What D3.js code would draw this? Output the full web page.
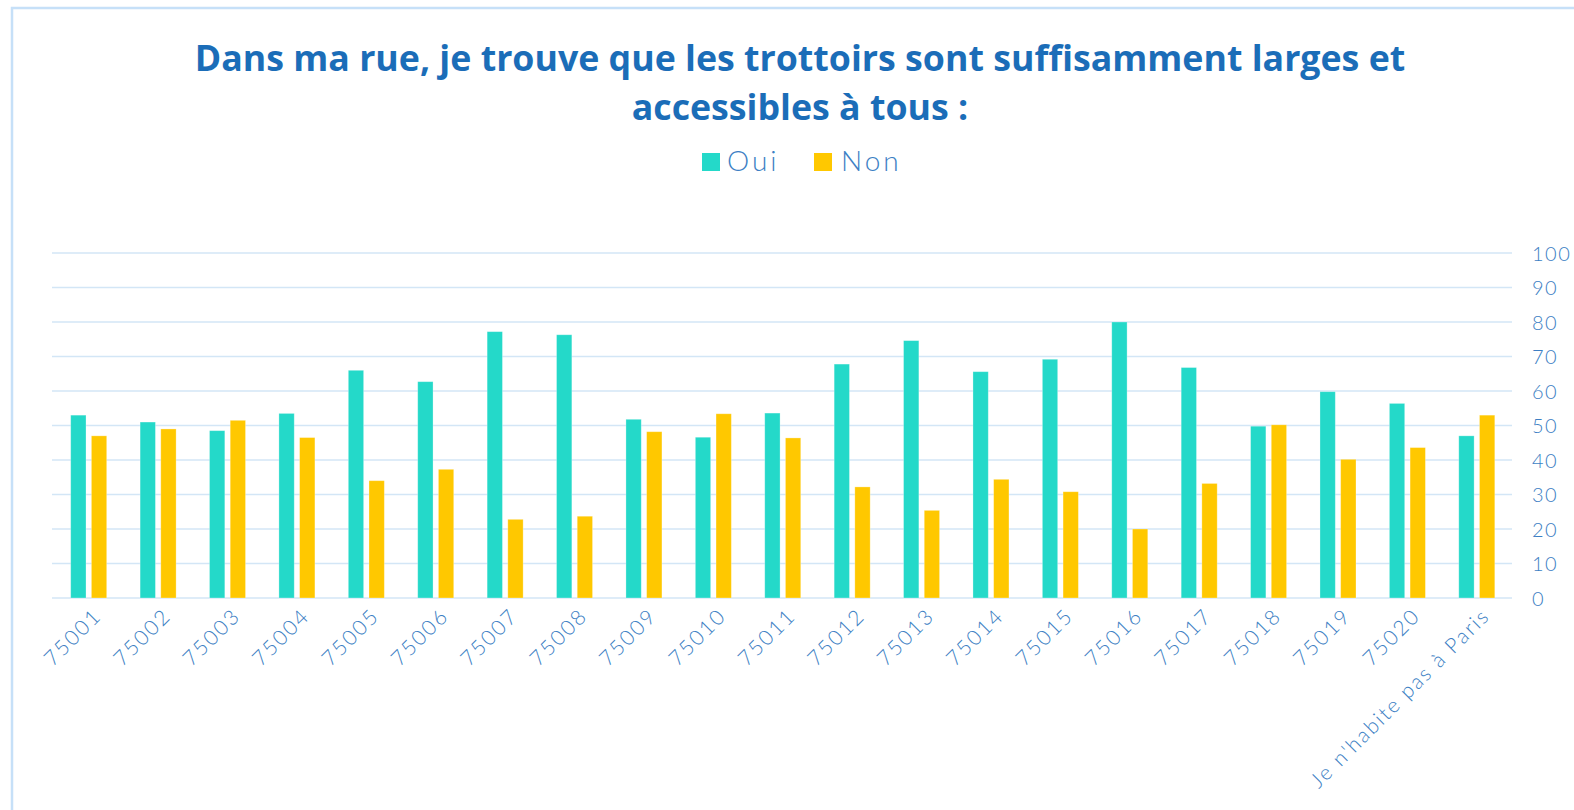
<!DOCTYPE html>
<html>
<head>
<meta charset="utf-8">
<script src="https://cdn.jsdelivr.net/npm/d3@7"></script>
<style>
  html, body { margin: 0; padding: 0; background: #fff; }
  svg { display: block; }
</style>
</head>
<body>
<svg id="chart" width="1574" height="810"></svg>
<script>
const categories = ["75001","75002","75003","75004","75005","75006","75007","75008","75009","75010","75011","75012","75013","75014","75015","75016","75017","75018","75019","75020","Je n'habite pas à Paris"];
const oui = [53, 51, 48.5, 53.5, 66, 62.7, 77.2, 76.3, 51.8, 46.6, 53.6, 67.8, 74.6, 65.6, 69.2, 80, 66.8, 49.8, 59.8, 56.4, 47];
const non = [47, 49, 51.5, 46.5, 34, 37.3, 22.8, 23.7, 48.2, 53.4, 46.4, 32.2, 25.4, 34.4, 30.8, 20, 33.2, 50.2, 40.2, 43.6, 53];
const seriesNames = ["Oui", "Non"];
const yTicks = [0,10,20,30,40,50,60,70,80,90,100];
const titleLines = ["Dans ma rue, je trouve que les trottoirs sont suffisamment larges et", "accessibles à tous :"];

const colors = { Oui: "#24d9c9", Non: "#ffc800" };
const textBlue = "#3d7fc4";
const titleBlue = "#1b6db8";
const gridColor = "#d3e6f6";
const labelFont = "Lato, 'Open Sans', sans-serif";

const svg = d3.select("#chart");

// outer border
svg.append("path")
  .attr("d", "M12,812 L12,8 L1576,8")
  .attr("fill", "none").attr("stroke", "#c6e0f8").attr("stroke-width", 2.5);

const margin = { left: 54, right: 1511.5, top: 253, bottom: 598 };
const x0 = d3.scaleBand().domain(categories).range([margin.left, margin.right]).paddingInner(0).paddingOuter(0);
const pairW = 36;
const x1 = d3.scaleBand().domain(seriesNames).range([0, pairW]).paddingInner(0.26);
const y = d3.scaleLinear().domain([0, 100]).range([margin.bottom, margin.top]);

// gridlines
svg.append("g").selectAll("line").data(yTicks).join("line")
  .attr("x1", 52).attr("x2", 1512)
  .attr("y1", d => y(d)).attr("y2", d => y(d))
  .attr("stroke", gridColor).attr("stroke-width", 1.6);

// right axis
const yAxis = d3.axisRight(y).tickValues(yTicks).tickSize(0).tickPadding(0);
const ya = svg.append("g").attr("transform", "translate(1532,0)").call(yAxis);
ya.select(".domain").remove();
ya.selectAll("text")
  .attr("fill", textBlue).attr("font-family", labelFont)
  .attr("font-size", 20).attr("font-weight", 300).attr("letter-spacing", 1.5).attr("dy", "0.35em");

// bars
const data = categories.map((c, i) => ({ c, vals: [{ k: "Oui", v: oui[i] }, { k: "Non", v: non[i] }] }));
const groups = svg.append("g").selectAll("g").data(data).join("g")
  .attr("transform", d => `translate(${x0(d.c) + (x0.bandwidth() - pairW) / 2},0)`);
groups.selectAll("rect").data(d => d.vals).join("rect")
  .attr("x", d => x1(d.k)).attr("width", x1.bandwidth())
  .attr("y", d => y(d.v)).attr("height", d => y(0) - y(d.v))
  .attr("fill", d => colors[d.k]).attr("stroke", "#ffffff").attr("stroke-opacity", 0.35).attr("stroke-width", 0.8);

// x axis labels
const xAxis = d3.axisBottom(x0).tickSize(0).tickPadding(0);
const xa = svg.append("g").attr("transform", `translate(0,${margin.bottom})`).call(xAxis);
xa.select(".domain").remove();
xa.selectAll(".tick text")
  .attr("fill", textBlue).attr("font-family", labelFont)
  .attr("font-size", 21).attr("font-weight", 300).attr("letter-spacing", 2)
  .attr("text-anchor", "end")
  .attr("transform", "translate(9,14) rotate(-45)")
  .attr("dy", "0.35em").attr("y", 0);

// title
const title = svg.append("g");
const t1 = title.append("text").attr("x", 800).attr("y", 71).text(titleLines[0]);
const t2 = title.append("text").attr("x", 800).attr("y", 120).text(titleLines[1]);
title.selectAll("text")
  .attr("text-anchor", "middle").attr("fill", titleBlue)
  .attr("font-family", "'Open Sans', Lato, sans-serif").attr("font-weight", 700).attr("font-size", 31);
const w1 = t1.node().getComputedTextLength();
title.selectAll("text").attr("font-size", 31 * 1211 / w1);

// legend
const legend = svg.append("g");
const legendItems = [{ k: "Oui", x: 702, tx: 727 }, { k: "Non", x: 814, tx: 841 }];
legend.selectAll("rect").data(legendItems).join("rect")
  .attr("x", d => d.x).attr("y", 153).attr("width", 18).attr("height", 18)
  .attr("fill", d => colors[d.k]);
legend.selectAll("text").data(legendItems).join("text")
  .attr("x", d => d.tx).attr("y", 171)
  .attr("fill", textBlue).attr("font-family", labelFont)
  .attr("font-size", 28).attr("font-weight", 300).attr("letter-spacing", 3)
  .text(d => d.k);
</script>
</body>
</html>
